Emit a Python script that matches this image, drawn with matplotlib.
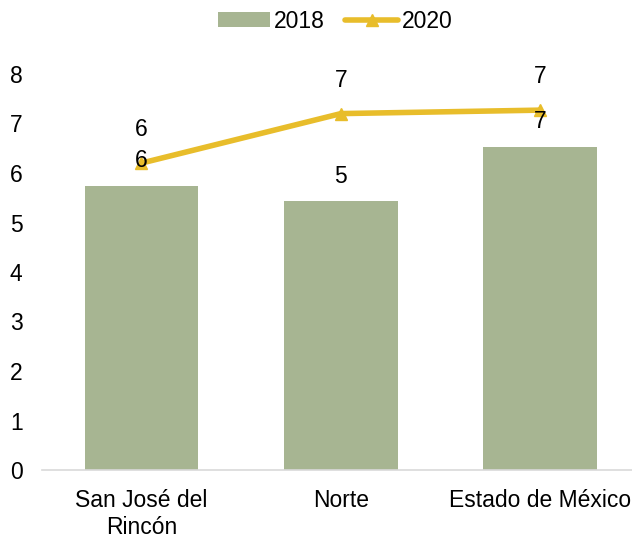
import matplotlib.pyplot as plt
import numpy as np

plt.rcParams['font.family'] = ['Liberation Sans', 'DejaVu Sans']

# Data
categories = ['San José del\nRincón', 'Norte', 'Estado de México']
values_2018 = [5.74, 5.43, 6.53]
values_2020 = [6.2, 7.2, 7.27]
labels_2018 = ['6', '5', '7']
labels_2020 = ['6', '7', '7']

bar_color = '#A7B592'
line_color = '#E8BD2B'

fig = plt.figure(figsize=(6.32, 5.4), dpi=100)
ax = fig.add_axes([42 / 632, 70 / 540, 590 / 632, 396 / 540])

x = np.arange(len(categories))
bars = ax.bar(x, values_2018, width=0.57, color=bar_color, label='2018', zorder=2)
line, = ax.plot(x, values_2020, color=line_color, lw=4, marker='^', markersize=9,
                solid_capstyle='round', label='2020', zorder=3)

for xi, v, t in zip(x, values_2018, labels_2018):
    ax.annotate(t, (xi, v), xytext=(0, 18), textcoords='offset points',
                ha='center', va='center', fontsize=16.5, zorder=4)
for xi, v, t in zip(x, values_2020, labels_2020):
    ax.annotate(t, (xi, v), xytext=(0, 24), textcoords='offset points',
                ha='center', va='center', fontsize=16.5, zorder=4)

ax.set_xlim(-0.4987, 2.46)
ax.set_ylim(0, 8)
ax.set_yticks(range(0, 9))
ax.set_xticks(x)
ax.set_xticklabels(categories)
ax.tick_params(axis='both', length=0, labelsize=16.5)
ax.tick_params(axis='y', pad=14)
ax.tick_params(axis='x', pad=14)

for s in ['top', 'right', 'left']:
    ax.spines[s].set_visible(False)
ax.spines['bottom'].set_color('#D9D9D9')
ax.spines['bottom'].set_linewidth(1.2)

fig.legend([bars, line], ['2018', '2020'], loc='upper center',
           bbox_to_anchor=(0.53, 1.02), ncol=2, frameon=False, fontsize=16.5,
           handlelength=2.3, handleheight=0.6, handletextpad=0.15,
           columnspacing=0.9)

plt.savefig('out.png', dpi=100)
